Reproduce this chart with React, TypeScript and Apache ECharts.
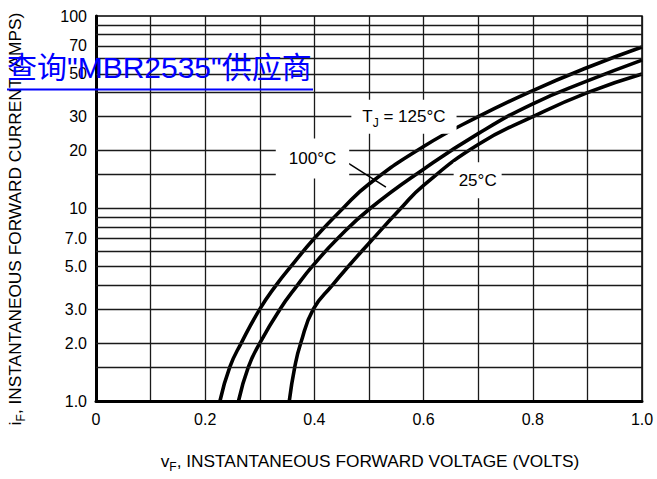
import React, { useEffect, useRef } from "react";
import * as echarts from "echarts";

const xTickValues = [0, 0.2, 0.4, 0.6, 0.8, 1.0];
const xTickLabels = ["0", "0.2", "0.4", "0.6", "0.8", "1.0"];
const yTickValues = [1, 2, 3, 5, 7, 10, 20, 30, 50, 70, 100];
const yTickLabels = ["1.0", "2.0", "3.0", "5.0", "7.0", "10", "20", "30", "50", "70", "100"];
const yGridValues = [1.5, 2, 3, 4, 5, 6, 7, 8, 9, 10, 15, 20, 30, 40, 50, 60, 70, 80, 90];

const vF125 = [0.227, 0.245, 0.266, 0.3, 0.33, 0.357, 0.4, 0.452, 0.5, 0.6, 0.7, 0.8, 0.9, 1.0];
const iF125 = [1.0, 1.5, 2.0, 3.0, 4.0, 5.0, 7.0, 10, 13.4, 21, 30, 41, 54, 69];
const vF100 = [0.261, 0.279, 0.3, 0.337, 0.369, 0.396, 0.443, 0.502, 0.6, 0.7, 0.8, 0.9, 1.0];
const iF100 = [1.0, 1.5, 2.0, 3.0, 4.0, 5.0, 7.0, 10, 16, 24.5, 35, 46, 59];
const vF25 = [0.354, 0.364, 0.375, 0.398, 0.433, 0.462, 0.5, 0.558, 0.6, 0.7, 0.8, 0.9, 1.0];
const iF25 = [1.0, 1.5, 2.0, 3.0, 4.0, 5.0, 6.6, 10, 13.2, 21.5, 30, 40, 50];

const curveNames = ["TJ = 125°C", "100°C", "25°C"];
const annotationTexts = ["{n|T}{sub|J}{n| = 125°C}", "{n|100°C}", "{n|25°C}"];
const xTitle = "{n|v}{sub|F}{n|, INSTANTANEOUS FORWARD VOLTAGE (VOLTS)}";
const yTitle = "{n|i}{sub|F}{n|, INSTANTANEOUS FORWARD CURRENT (AMPS)}";
const watermark = '查询"MBR2535"供应商';

const FONT = '"Liberation Sans", Arial, Helvetica, sans-serif';

const pairs = (xs: number[], ys: number[]) => xs.map((x, i) => [x, ys[i]]);

export default function App() {
  const ref = useRef<HTMLDivElement>(null);

  useEffect(() => {
    if (!ref.current) return;
    const chart = echarts.init(ref.current, undefined, { renderer: "svg" });

    const labelRich = {
      n: { fontSize: 17, lineHeight: 24, color: "#000", fontFamily: FONT },
      sub: { fontSize: 12, lineHeight: 12, verticalAlign: "bottom", color: "#000", fontFamily: FONT },
    };
    const gRich = {
      n: { fontSize: 17.3, lineHeight: 24, fill: "#000", fontFamily: FONT },
      sub: { fontSize: 12, lineHeight: 12, verticalAlign: "bottom", fill: "#000", fontFamily: FONT },
    };

    const curves = [pairs(vF125, iF125), pairs(vF100, iF100), pairs(vF25, iF25)];

    const option: any = {
      animation: false,
      textStyle: { fontFamily: FONT },
      grid: {
        left: 96,
        top: 16,
        width: 546,
        height: 385,
        show: true,
        borderColor: "#000",
        borderWidth: 1.5,
        backgroundColor: "transparent",
      },
      xAxis: {
        type: "value",
        min: 0,
        max: 1,
        interval: 0.1,
        axisLine: { show: true, onZero: false, lineStyle: { color: "#000", width: 3 } },
        axisTick: { show: false },
        splitLine: { show: true, lineStyle: { color: "#1a1a1a", width: 1.3 } },
        axisLabel: {
          color: "#000",
          fontSize: 16,
          margin: 10,
          formatter: (v: number) => {
            const i = xTickValues.findIndex((t) => Math.abs(t - v) < 1e-6);
            return i >= 0 ? xTickLabels[i] : "";
          },
        },
      },
      yAxis: {
        type: "log",
        logBase: 10,
        min: 1,
        max: 100,
        axisLine: { show: true, lineStyle: { color: "#000", width: 3 } },
        axisTick: { show: false },
        splitLine: { show: false },
        axisLabel: {
          customValues: yTickValues,
          color: "#000",
          fontSize: 16,
          margin: 9,
          formatter: (v: number) => {
            const i = yTickValues.findIndex((t) => Math.abs(t - v) / t < 1e-4);
            return i >= 0 ? yTickLabels[i] : "";
          },
        },
      },
      series: [
        {
          type: "line",
          name: "grid",
          data: [],
          z: 1,
          silent: true,
          markLine: {
            silent: true,
            symbol: ["none", "none"],
            label: { show: false },
            lineStyle: { color: "#1a1a1a", width: 1.3, type: "solid" },
            data: yGridValues.map((v) => ({ yAxis: v })),
          },
        },
        {
          type: "line",
          name: "annotations",
          data: [],
          z: 2,
          silent: true,
          markPoint: {
            symbol: "circle",
            symbolSize: 0,
            itemStyle: { color: "transparent" },
            label: {
              show: true,
              position: "inside",
              color: "#000",
              backgroundColor: "#fff",
              rich: labelRich,
            },
            data: [
              { coord: [0.564, 30], label: { formatter: annotationTexts[0], padding: [5, 11] } },
              { coord: [0.3965, 18.2], label: { formatter: annotationTexts[1], padding: [8, 13] } },
              { coord: [0.699, 14], label: { formatter: annotationTexts[2], padding: [6, 5] } },
            ],
          },
          markLine: {
            silent: true,
            symbol: ["none", "triangle"],
            symbolSize: [1, [8, 17]],
            label: { show: false },
            lineStyle: { color: "#000", width: 1.5, type: "solid" },
            data: [[{ coord: [0.451, 18] }, { coord: [0.531, 12.9] }]],
          },
        },
        ...curves.map((d, i) => ({
          type: "line",
          name: curveNames[i],
          data: d,
          smooth: 0.5,
          showSymbol: false,
          symbol: "none",
          lineStyle: { color: "#000", width: 3.6 },
          z: 3,
        })),
      ],
      graphic: [
        {
          type: "text",
          x: 370,
          y: 461,
          z: 10,
          style: { text: xTitle, rich: gRich, align: "center", verticalAlign: "middle", fill: "#000", fontSize: 17.3, fontFamily: FONT },
        },
        {
          type: "text",
          x: 15,
          y: 219,
          rotation: Math.PI / 2,
          z: 10,
          style: { text: yTitle, rich: gRich, align: "center", verticalAlign: "middle", fill: "#000", fontSize: 17.3, fontFamily: FONT },
        },
        {
          type: "text",
          x: 7,
          y: 52,
          z: 100,
          style: {
            text: watermark,
            fill: "#0000ff",
            fontSize: 30,
            fontFamily: FONT + ', "Noto Sans CJK SC"',
            align: "left",
            verticalAlign: "top",
          },
        },
        {
          type: "line",
          z: 100,
          shape: { x1: 7, y1: 89.5, x2: 313, y2: 89.5 },
          style: { stroke: "#0000ff", lineWidth: 2 },
        },
      ],
    };

    chart.setOption(option);
    return () => chart.dispose();
  }, []);

  return (
    <div
      ref={ref}
      style={{ position: "fixed", left: 0, top: 0, width: "657px", height: "479px", background: "#fff" }}
    />
  );
}
